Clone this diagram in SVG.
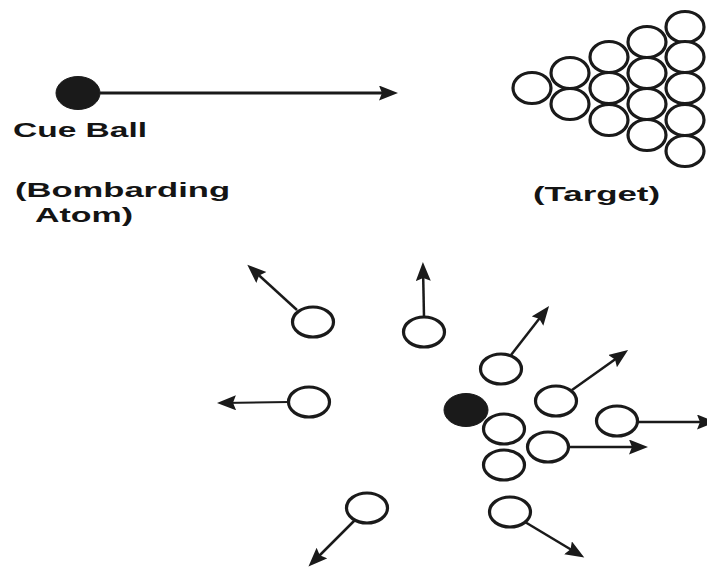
<svg xmlns="http://www.w3.org/2000/svg" width="707" height="570" viewBox="0 0 707 570">
  <defs>
    <style>
      .ball { fill: #ffffff; stroke: #1a1a1a; stroke-width: 3.2; }
      .rack { fill: #ffffff; stroke: #1a1a1a; stroke-width: 3.2; }
      .solid { fill: #1a1a1a; stroke: #1a1a1a; stroke-width: 1; }
      .shaft { fill: none; stroke: #1a1a1a; stroke-width: 2.5; marker-end: url(#head); }
      .label { font-family: "Liberation Sans", Arial, sans-serif; font-weight: bold; font-size: 21px; fill: #141414; }
    </style>
    <marker id="head" markerUnits="userSpaceOnUse" markerWidth="20" markerHeight="16" refX="14" refY="7.5" orient="auto">
      <path d="M0,0 L19,7.5 L0,15 L3,7.5 z" fill="#1a1a1a"/>
    </marker>
  </defs>
  <rect width="707" height="570" fill="#ffffff"/>

  <!-- Incoming cue ball -->
  <g id="cue-ball">
    <ellipse class="solid" cx="78" cy="93" rx="22" ry="16.5"/>
  </g>
  <g id="cue-label">
    <text class="label" x="13" y="137" textLength="134" lengthAdjust="spacingAndGlyphs">Cue Ball</text>
    <text class="label" x="15" y="197" textLength="215" lengthAdjust="spacingAndGlyphs">(Bombarding</text>
    <text class="label" x="35" y="222" textLength="98" lengthAdjust="spacingAndGlyphs">Atom)</text>
  </g>

  <!-- Racked target balls -->
  <g id="target">
    <ellipse class="rack" cx="532" cy="88" rx="19" ry="15.5"/>
    <ellipse class="rack" cx="570" cy="73" rx="19" ry="15.5"/>
    <ellipse class="rack" cx="570" cy="104" rx="19" ry="15.5"/>
    <ellipse class="rack" cx="609" cy="57" rx="19" ry="15.5"/>
    <ellipse class="rack" cx="609" cy="88" rx="19" ry="15.5"/>
    <ellipse class="rack" cx="609" cy="120" rx="19" ry="15.5"/>
    <ellipse class="rack" cx="647" cy="42" rx="19" ry="15.5"/>
    <ellipse class="rack" cx="647" cy="73" rx="19" ry="15.5"/>
    <ellipse class="rack" cx="647" cy="104" rx="19" ry="15.5"/>
    <ellipse class="rack" cx="647" cy="135" rx="19" ry="15.5"/>
    <ellipse class="rack" cx="685" cy="27" rx="19" ry="15.5"/>
    <ellipse class="rack" cx="685" cy="57" rx="19" ry="15.5"/>
    <ellipse class="rack" cx="685" cy="88" rx="19" ry="15.5"/>
    <ellipse class="rack" cx="685" cy="120" rx="19" ry="15.5"/>
    <ellipse class="rack" cx="685" cy="151" rx="19" ry="15.5"/>
  </g>
  <g id="target-label">
    <text class="label" x="533" y="201" textLength="127" lengthAdjust="spacingAndGlyphs">(Target)</text>
  </g>

  <!-- After the break -->
  <g id="scattered">
    <ellipse class="ball" cx="313" cy="322" rx="20.5" ry="15"/>
    <ellipse class="ball" cx="424" cy="332" rx="20.5" ry="15"/>
    <ellipse class="ball" cx="309" cy="402" rx="20.5" ry="15"/>
    <ellipse class="ball" cx="367" cy="508" rx="20.5" ry="15"/>
    <ellipse class="ball" cx="501" cy="369" rx="20.5" ry="15"/>
    <ellipse class="ball" cx="556" cy="401" rx="20.5" ry="15"/>
    <ellipse class="ball" cx="617" cy="421" rx="20.5" ry="15"/>
    <ellipse class="ball" cx="548" cy="447" rx="20.5" ry="15"/>
    <ellipse class="ball" cx="504" cy="429" rx="20.5" ry="15"/>
    <ellipse class="ball" cx="504" cy="465" rx="20.5" ry="15"/>
    <ellipse class="ball" cx="510" cy="512" rx="20.5" ry="15"/>
  </g>
  <g id="cue-ball-after">
    <ellipse class="solid" cx="466" cy="410" rx="22" ry="16.5"/>
  </g>

  <!-- Motion arrows -->
  <g id="connectors">
    <line class="shaft" x1="100" y1="93" x2="393" y2="93" style="stroke-width:3"/>
    <line class="shaft" x1="297" y1="310" x2="251" y2="268"/>
    <line class="shaft" x1="424" y1="317" x2="423" y2="267"/>
    <line class="shaft" x1="289" y1="402" x2="222" y2="403" style="stroke-width:2"/>
    <line class="shaft" x1="355" y1="520" x2="312" y2="563"/>
    <line class="shaft" x1="511" y1="355" x2="546" y2="310"/>
    <line class="shaft" x1="572" y1="390" x2="624" y2="353"/>
    <line class="shaft" x1="637" y1="422" x2="711" y2="422"/>
    <line class="shaft" x1="568" y1="447" x2="643" y2="447"/>
    <line class="shaft" x1="525" y1="522" x2="580" y2="555"/>
  </g>
</svg>
